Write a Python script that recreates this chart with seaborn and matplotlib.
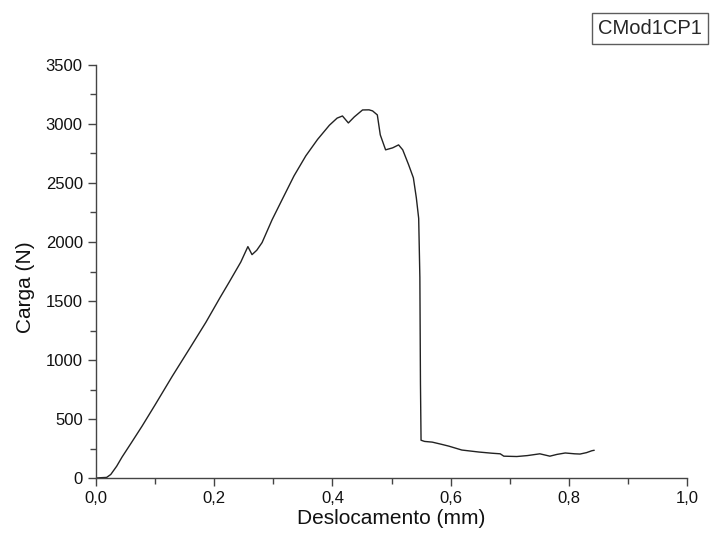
import matplotlib
matplotlib.use("Agg")
import matplotlib.pyplot as plt
import matplotlib.ticker as mticker
import seaborn as sns
import pandas as pd

# displacement (mm) and load (N)
deslocamento = [0.0, 0.010, 0.018, 0.025, 0.035, 0.044, 0.060, 0.078, 0.100, 0.129,
                0.160, 0.186, 0.210, 0.225, 0.245, 0.257, 0.264, 0.272, 0.281, 0.298,
                0.315, 0.335, 0.355, 0.375, 0.395, 0.408, 0.417, 0.427, 0.437, 0.451,
                0.462, 0.468, 0.476, 0.481, 0.490, 0.502, 0.512, 0.519, 0.529, 0.537,
                0.542, 0.546, 0.548, 0.549, 0.550, 0.556, 0.569, 0.585, 0.597, 0.619,
                0.648, 0.670, 0.684, 0.690, 0.712, 0.730, 0.751, 0.768, 0.780, 0.794,
                0.810, 0.819, 0.830, 0.839, 0.843]
carga = [0, 3, 5, 30, 100, 177, 300, 440, 620, 862,
         1110, 1320, 1530, 1657, 1830, 1961, 1893, 1930, 1995, 2189,
         2360, 2560, 2730, 2870, 2990, 3050, 3068, 3009, 3060, 3119,
         3120, 3111, 3077, 2908, 2781, 2798, 2823, 2781, 2654, 2544,
         2375, 2200, 1700, 800, 320, 310, 304, 285, 270, 237,
         220, 210, 205, 185, 182, 190, 205, 185, 200, 212,
         205, 203, 215, 231, 235]
serie = "CMod1CP1"

df = pd.DataFrame({"x": deslocamento, "y": carga})

sns.set_theme(style="ticks")
plt.rcParams['font.family'] = ['Liberation Sans', 'DejaVu Sans']

fig = plt.figure(figsize=(7.12, 5.48), dpi=100)
ax = fig.add_axes([96/712, 70/548, 591/712, 413/548])

sns.lineplot(data=df, x="x", y="y", sort=False, estimator=None,
             color="#222222", linewidth=1.0, label=serie, ax=ax)

ax.set_xlim(0, 1.0)
ax.set_ylim(0, 3500)
ax.xaxis.set_major_locator(mticker.MultipleLocator(0.2))
ax.xaxis.set_minor_locator(mticker.MultipleLocator(0.1))
ax.yaxis.set_major_locator(mticker.MultipleLocator(500))
ax.yaxis.set_minor_locator(mticker.MultipleLocator(250))
ax.xaxis.set_major_formatter(mticker.FuncFormatter(lambda v, p: f"{v:.1f}".replace(".", ",")))

for s in ["top", "right"]:
    ax.spines[s].set_visible(False)
for s in ["left", "bottom"]:
    ax.spines[s].set_color("#444444")
    ax.spines[s].set_linewidth(1.0)

ax.tick_params(which="major", direction="out", length=6, width=1, color="#444444",
               labelsize=12, labelcolor="#111111", pad=3.5)
ax.tick_params(which="minor", direction="out", length=4, width=1, color="#444444")

ax.set_xlabel("Deslocamento (mm)", fontsize=15, color="#111111", va="center")
ax.set_ylabel("Carga (N)", fontsize=15, color="#111111", va="center")
ax.xaxis.set_label_coords(0.499, -0.099)
ax.yaxis.set_label_coords(-0.120, 0.461)

leg = ax.legend(loc="upper right", bbox_to_anchor=(708/712, 1 - 13/548),
                bbox_transform=fig.transFigure, borderaxespad=0,
                handlelength=0, handletextpad=0, fancybox=False,
                edgecolor="#333333", fontsize=14.5, borderpad=0.3)
leg.get_frame().set_linewidth(1.0)
for h in leg.legend_handles:
    h.set_visible(False)

fig.savefig("out.png", dpi=100, facecolor="white")
